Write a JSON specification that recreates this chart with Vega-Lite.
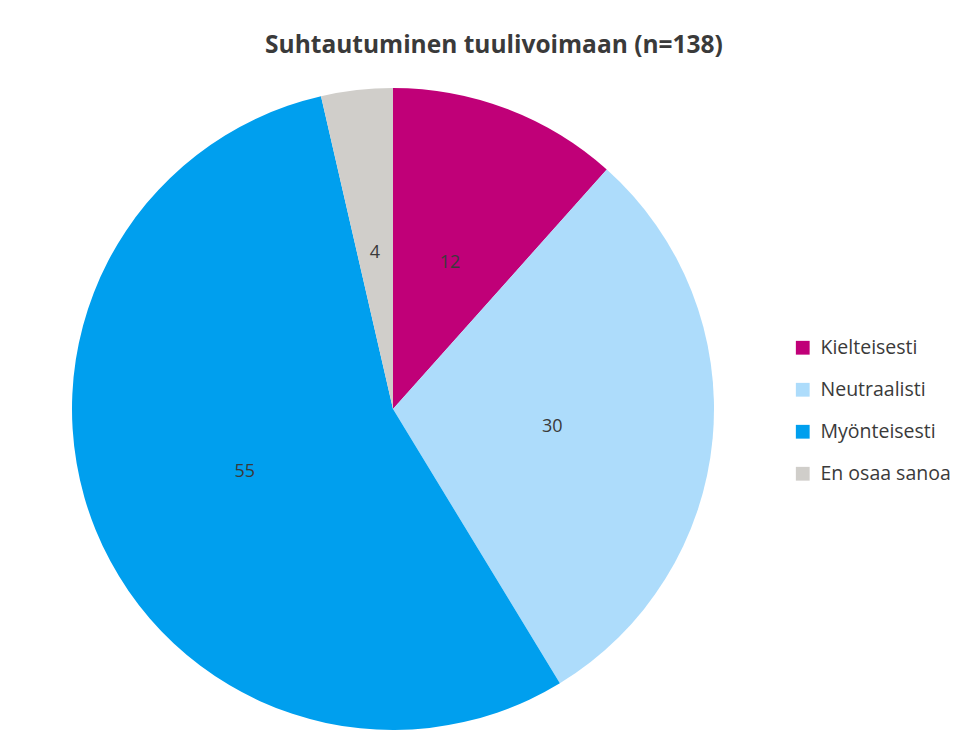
{
  "$schema": "https://vega.github.io/schema/vega-lite/v6.json",
  "autosize": "none",
  "width": 642,
  "height": 642,
  "padding": {"left": 72, "top": 88, "right": 250, "bottom": 24},
  "background": "white",
  "title": {
    "text": "Suhtautuminen tuulivoimaan (n=138)",
    "font": "Open Sans",
    "fontSize": 24.5,
    "fontWeight": "bold",
    "color": "#3A3A3A",
    "anchor": "middle",
    "dx": 101,
    "offset": 30
  },
  "data": {
    "values": [
      {"category": "Kielteisesti", "share": 11.6, "label": 12, "order": 1},
      {"category": "Neutraalisti", "share": 29.7, "label": 30, "order": 2},
      {"category": "Myönteisesti", "share": 55.1, "label": 55, "order": 3},
      {"category": "En osaa sanoa", "share": 3.6, "label": 4, "order": 4}
    ]
  },
  "encoding": {
    "theta": {"field": "share", "type": "quantitative", "stack": true},
    "order": {"field": "order", "type": "quantitative"},
    "color": {
      "field": "category",
      "type": "nominal",
      "sort": null,
      "scale": {
        "domain": ["Kielteisesti", "Neutraalisti", "Myönteisesti", "En osaa sanoa"],
        "range": ["#C00078", "#ADDCFB", "#009FEE", "#D0CECA"]
      },
      "legend": {
        "title": null,
        "orient": "none",
        "legendX": 721,
        "legendY": 250,
        "symbolType": "square",
        "symbolSize": 190,
        "symbolStrokeWidth": 0,
        "labelFont": "Open Sans",
        "labelFontSize": 19.5,
        "labelColor": "#3A3A3A",
        "rowPadding": 21,
        "labelOffset": 8
      }
    }
  },
  "layer": [
    {"mark": {"type": "arc", "outerRadius": 321}},
    {
      "mark": {"type": "text", "radius": 160, "dy": 3, "font": "Open Sans", "fontSize": 18, "color": "#3A3A3A"},
      "encoding": {"text": {"field": "label", "type": "quantitative"}, "color": {"value": "#3A3A3A"}}
    }
  ]
}
